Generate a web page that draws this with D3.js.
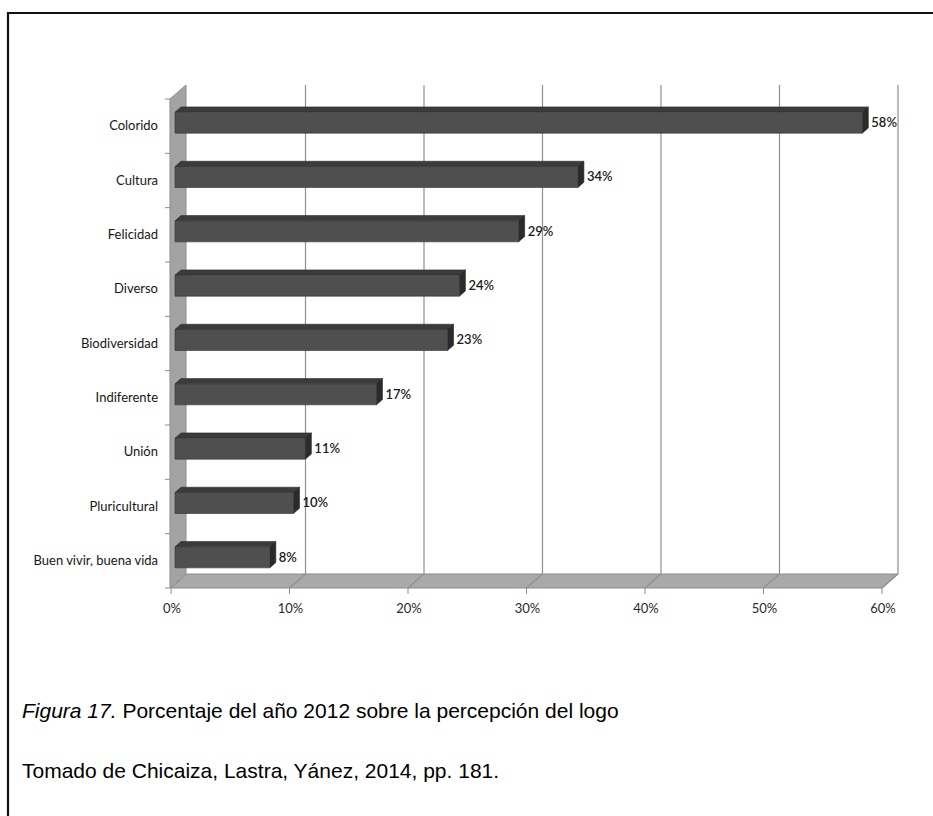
<!DOCTYPE html>
<html>
<head>
<meta charset="utf-8">
<script src="https://cdn.jsdelivr.net/npm/d3@7"></script>
<style>
  body { margin: 0; background: #fff; }
  svg { display: block; }
</style>
</head>
<body>
<div id="chart"></div>
<script>
// data
const categories = ["Colorido", "Cultura", "Felicidad", "Diverso", "Biodiversidad",
                    "Indiferente", "Unión", "Pluricultural", "Buen vivir, buena vida"];
const values = [58, 34, 29, 24, 23, 17, 11, 10, 8];
const xTicks = [0, 10, 20, 30, 40, 50, 60];
const captionFig = "Figura 17.";
const captionText = " Porcentaje del año 2012 sobre la percepción del logo";
const sourceText = "Tomado de Chicaiza, Lastra, Yánez, 2014, pp. 181.";

const width = 933, height = 816;
const depthX = 16, depthY = -14;   // oblique depth of the 3d box
const zFront = 0.25, zBack = 0.625; // bar depth inside the box

const svg = d3.select("#chart")
              .append("svg")
                .attr("width", width)
                .attr("height", height);

// page frame (only top and left edges are visible)
svg.append("path")
  .attr("d", "M8,816 V13 H933")
  .attr("fill", "none")
  .attr("stroke", "#111")
  .attr("stroke-width", 2.2);

const x = d3.scaleLinear()
            .domain([0, 60])
            .range([171, 882]);

const y = d3.scaleBand()
            .domain(categories)
            .range([99, 588]);

// project a front-plane point back by depth z (0 = front, 1 = back wall)
function p(px, py, z) {
  return [px + z * depthX, py + z * depthY];
}
function poly(pts) {
  return "M" + pts.map(d => d.join(",")).join("L") + "Z";
}

const yTop = y.range()[0], yBottom = y.range()[1];
const x0 = x(0), xMax = x(60);

// side wall
svg.append("path")
  .attr("d", poly([p(x0 - 1, yTop, 0), p(x0 - 1, yTop, 1), p(x0 - 1, yBottom, 1), p(x0 - 1, yBottom, 0)]))
  .attr("fill", "#a3a3a3")
  .attr("stroke", "#8c8c8c")
  .attr("stroke-width", 1);

// floor
svg.append("path")
  .attr("d", poly([p(x0, yBottom, 0), p(x0, yBottom, 1), p(xMax, yBottom, 1), p(xMax, yBottom, 0)]))
  .attr("fill", "#a9a9a9")
  .attr("stroke", "#8c8c8c")
  .attr("stroke-width", 1);

// back gridlines + their continuation on the floor
const grid = svg.append("g").attr("class", "grid");
xTicks.filter(v => v > 0).forEach(function(v) {
  const top = p(x(v), yTop, 1), bot = p(x(v), yBottom, 1), front = p(x(v), yBottom, 0);
  grid.append("path")
    .attr("d", "M" + top.join(",") + "L" + bot.join(",") + "L" + front.join(","))
    .attr("fill", "none")
    .attr("stroke", "#909090")
    .attr("stroke-width", 1.2);
});

// x axis ticks and labels
const xAxis = svg.append("g").attr("class", "x-axis");
xTicks.forEach(function(v) {
  xAxis.append("line")
    .attr("x1", x(v)).attr("x2", x(v))
    .attr("y1", yBottom).attr("y2", yBottom + 6)
    .attr("stroke", "#8c8c8c");
  xAxis.append("text")
    .attr("x", x(v) + 1)
    .attr("y", yBottom + 22)
    .attr("text-anchor", "middle")
    .attr("dominant-baseline", "middle")
    .style("font-family", "Lato, sans-serif")
    .style("font-size", "13px")
    .style("fill", "#2a2a2a")
    .text(v + "%");
});

// y axis ticks at category boundaries
const yAxis = svg.append("g").attr("class", "y-axis");
d3.range(categories.length + 1).forEach(function(i) {
  const yy = yTop + i * y.step();
  yAxis.append("line")
    .attr("x1", x0 - 6).attr("x2", x0 - 1)
    .attr("y1", yy).attr("y2", yy)
    .attr("stroke", "#8c8c8c");
});

yAxis.selectAll("text")
  .data(categories)
  .enter().append("text")
    .attr("x", 158)
    .attr("y", d => y(d) + y.bandwidth() / 2 + 1)
    .attr("text-anchor", "end")
    .attr("dominant-baseline", "middle")
    .style("font-family", "Lato, sans-serif")
    .style("font-size", "13px")
    .style("fill", "#161616")
    .text(d => d);

// 3d bars
const barH = 21;
const bars = svg.selectAll(".bar")
  .data(categories.map((c, i) => ({cat: c, value: values[i]})))
  .enter().append("g")
    .attr("class", "bar");

bars.each(function(d) {
  const g = d3.select(this);
  const yc = y(d.cat) + y.bandwidth() / 2;
  const t = yc - barH / 2, b = yc + barH / 2;
  const xv = x(d.value);

  // top face
  g.append("path")
    .attr("d", poly([p(x0, t, zFront), p(x0, t, zBack), p(xv, t, zBack), p(xv, t, zFront)]))
    .attr("fill", "#3b3b3b")
    .attr("stroke", "#2c2c2c")
    .attr("stroke-width", 0.6);
  // right side face
  g.append("path")
    .attr("d", poly([p(xv, t, zFront), p(xv, t, zBack), p(xv, b, zBack), p(xv, b, zFront)]))
    .attr("fill", "#2b2b2b")
    .attr("stroke", "#222")
    .attr("stroke-width", 0.6);
  // front face
  g.append("path")
    .attr("d", poly([p(x0, t, zFront), p(xv, t, zFront), p(xv, b, zFront), p(x0, b, zFront)]))
    .attr("fill", "#4f4f4f")
    .attr("stroke", "#333")
    .attr("stroke-width", 0.6);

  // value label
  const lp = p(xv, yc, zFront);
  g.append("text")
    .attr("x", xv + zBack * depthX + 3)
    .attr("y", lp[1] + 1)
    .attr("dominant-baseline", "middle")
    .style("font-family", "Lato, sans-serif")
    .style("font-size", "13px")
    .style("font-weight", "600")
    .style("fill", "#1a1a1a")
    .text(d.value + "%");
});

// caption
const cap = svg.append("text")
  .attr("x", 22)
  .attr("y", 718)
  .style("font-family", "'Liberation Sans', Arial, sans-serif")
  .style("font-size", "21px")
  .style("fill", "#000");
cap.append("tspan").style("font-style", "italic").text(captionFig);
cap.append("tspan").text(captionText);

svg.append("text")
  .attr("x", 22)
  .attr("y", 778)
  .style("font-family", "'Liberation Sans', Arial, sans-serif")
  .style("font-size", "21px")
  .style("fill", "#000")
  .text(sourceText);
</script>
</body>
</html>
